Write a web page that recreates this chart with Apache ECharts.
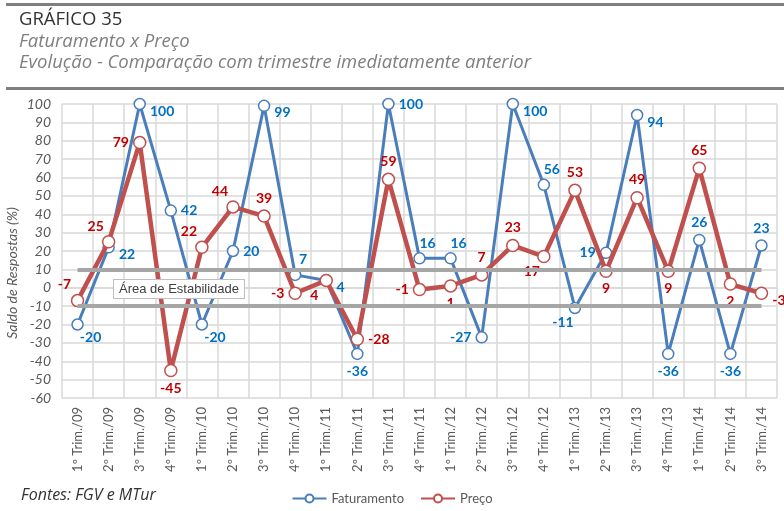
<!DOCTYPE html>
<html>
<head>
<meta charset="utf-8">
<script src="https://cdn.jsdelivr.net/npm/echarts@6/dist/echarts.min.js"></script>
<style>
  html, body { margin: 0; padding: 0; background: #fff; }
  #chart { width: 784px; height: 511px; }
</style>
</head>
<body>
<div id="chart"></div>
<script>
// Quarters on the category axis
const categories = [
  '1º Trim./09', '2º Trim./09', '3º Trim./09', '4º Trim./09',
  '1º Trim./10', '2º Trim./10', '3º Trim./10', '4º Trim./10',
  '1º Trim./11', '2º Trim./11', '3º Trim./11', '4º Trim./11',
  '1º Trim./12', '2º Trim./12', '3º Trim./12', '4º Trim./12',
  '1º Trim./13', '2º Trim./13', '3º Trim./13', '4º Trim./13',
  '1º Trim./14', '2º Trim./14', '3º Trim./14'
];

// Balance of answers (%), versus the previous quarter
const faturamento = [-20, 22, 100, 42, -20, 20, 99, 7, 4, -36, 100, 16, 16, -27, 100, 56, -11, 19, 94, -36, 26, -36, 23];
const preco       = [-7, 25, 79, -45, 22, 44, 39, -3, 4, -28, 59, -1, 1, 7, 23, 17, 53, 9, 49, 9, 65, 2, -3];

// Stability band limits
const stabilityBand = [10, -10];

// Value axis
const yMin = -60, yMax = 100, yStep = 10;

// Where each value label sits around its point
const fatPlaces  = ['br', 'rb', 'rb', 'r', 'br', 'r', 'rb', 'tr', 'rb', 'b', 'r', 'tr', 'tr', 'l', 'rb', 'tr', 'bl', 'l', 'rb', 'b', 't', 'b', 't'];
const precoPlaces = ['tl', 'tl', 'l', 'b', 'tl', 'tl', 't', 'l', 'bl', 'r', 't', 'l', 'b', 't', 't', 'bl', 't', 'b', 't', 'b', 't', 'b', 'rb'];

const placeMap = {
  r:  { position: 'right', offset: [0, 0] },
  rb: { position: 'right', offset: [0, 7] },
  l:  { position: 'left', offset: [0, 0] },
  t:  { position: 'top', offset: [0, 0] },
  b:  { position: 'bottom', offset: [0, 0] },
  tr: { position: 'top', offset: [8, 2] },
  tl: { position: 'top', offset: [-13, 2] },
  br: { position: 'bottom', offset: [13, -4] },
  bl: { position: 'bottom', offset: [-12, -3] }
};

function withLabels(values, places, color) {
  return values.map((v, i) => ({
    value: v,
    label: Object.assign({
      show: true,
      color: color,
      fontFamily: 'Lato',
      fontWeight: 'bold',
      fontSize: 14,
      distance: 4
    }, placeMap[places[i]])
  }));
}

const BLUE = '#4a7ebb';
const RED = '#c0504d';
const GRID = '#d9d9d9';
const TEXT = '#595959';

const chart = echarts.init(document.getElementById('chart'), null, { renderer: 'canvas' });

chart.setOption({
  backgroundColor: '#fff',
  animation: false,
  grid: { left: 62, right: 7, top: 104, bottom: 113, containLabel: false },
  legend: {
    bottom: 1,
    left: 'center',
    itemWidth: 34,
    itemHeight: 10,
    itemGap: 16,
    textStyle: { color: TEXT, fontFamily: 'Lato', fontSize: 13 },
    data: ['Faturamento', 'Preço']
  },
  xAxis: {
    type: 'category',
    data: categories,
    boundaryGap: true,
    axisLine: { show: true, lineStyle: { color: GRID, width: 1.5 } },
    axisTick: { show: false },
    splitLine: { show: true, interval: 0, lineStyle: { color: GRID, width: 1.5 } },
    axisLabel: {
      interval: 0,
      rotate: 90,
      margin: 9,
      color: TEXT,
      fontFamily: 'Lato',
      fontSize: 13
    }
  },
  yAxis: {
    type: 'value',
    min: yMin,
    max: yMax,
    interval: yStep,
    axisLine: { show: false },
    axisTick: { show: false },
    splitLine: { show: true, lineStyle: { color: GRID, width: 1.5 } },
    axisLabel: {
      margin: 11,
      color: TEXT,
      fontFamily: 'Lato',
      fontStyle: 'italic',
      fontSize: 14
    }
  },
  series: [
    {
      name: 'Faturamento',
      type: 'line',
      data: withLabels(faturamento, fatPlaces, '#0070c0'),
      symbol: 'circle',
      symbolSize: 11,
      showAllSymbol: true,
      lineStyle: { color: BLUE, width: 3 },
      itemStyle: { color: '#fff', borderColor: BLUE, borderWidth: 1.5 },
      z: 3,
      markLine: {
        silent: true,
        symbol: 'none',
        lineStyle: { color: '#a6a6a6', width: 4, type: 'solid' },
        label: { show: false },
        data: stabilityBand.map(v => [
          { coord: [categories[0], v] },
          { coord: [categories[categories.length - 1], v] }
        ])
      }
    },
    {
      name: 'Preço',
      type: 'line',
      data: withLabels(preco, precoPlaces, '#c00000'),
      symbol: 'circle',
      symbolSize: 12,
      showAllSymbol: true,
      lineStyle: { color: RED, width: 4.5 },
      itemStyle: { color: '#fff', borderColor: RED, borderWidth: 1.5 },
      z: 4
    }
  ],
  graphic: [
    // header rules
    { type: 'rect', shape: { x: 6, y: 3, width: 778, height: 3 }, style: { fill: '#7f7f7f' } },
    { type: 'rect', shape: { x: 6, y: 87, width: 778, height: 3 }, style: { fill: '#7f7f7f' } },
    { type: 'text', left: 19, top: 10, style: { text: 'GRÁFICO 35', fill: '#333', font: '18.5px "Open Sans"' } },
    { type: 'text', left: 19, top: 32, style: { text: 'Faturamento x Preço', fill: '#7f7f7f', font: 'italic 18.5px "Open Sans"' } },
    { type: 'text', left: 19, top: 53, style: { text: 'Evolução - Comparação com trimestre imediatamente anterior', fill: '#7f7f7f', font: 'italic 18.5px "Open Sans"' } },
    { type: 'text', left: 21, top: 487, style: { text: 'Fontes: FGV e MTur', fill: '#333', font: 'italic 16px "Open Sans"' } },
    // value axis title
    {
      type: 'text', x: 5, y: 273, rotation: Math.PI / 2,
      style: {
        text: 'Saldo de Respostas (%)',
        fill: TEXT,
        font: 'italic 14px Lato',
        align: 'center',
        verticalAlign: 'top'
      }
    },
    // stability band caption
    {
      type: 'text', left: 113, top: 279, z: 10,
      style: {
        text: 'Área de Estabilidade',
        fill: '#404040',
        font: '13px "Liberation Sans"',
        backgroundColor: '#fff',
        borderColor: '#bfbfbf',
        borderWidth: 1,
        padding: [3, 5, 2, 5]
      }
    }
  ]
});
</script>
</body>
</html>
